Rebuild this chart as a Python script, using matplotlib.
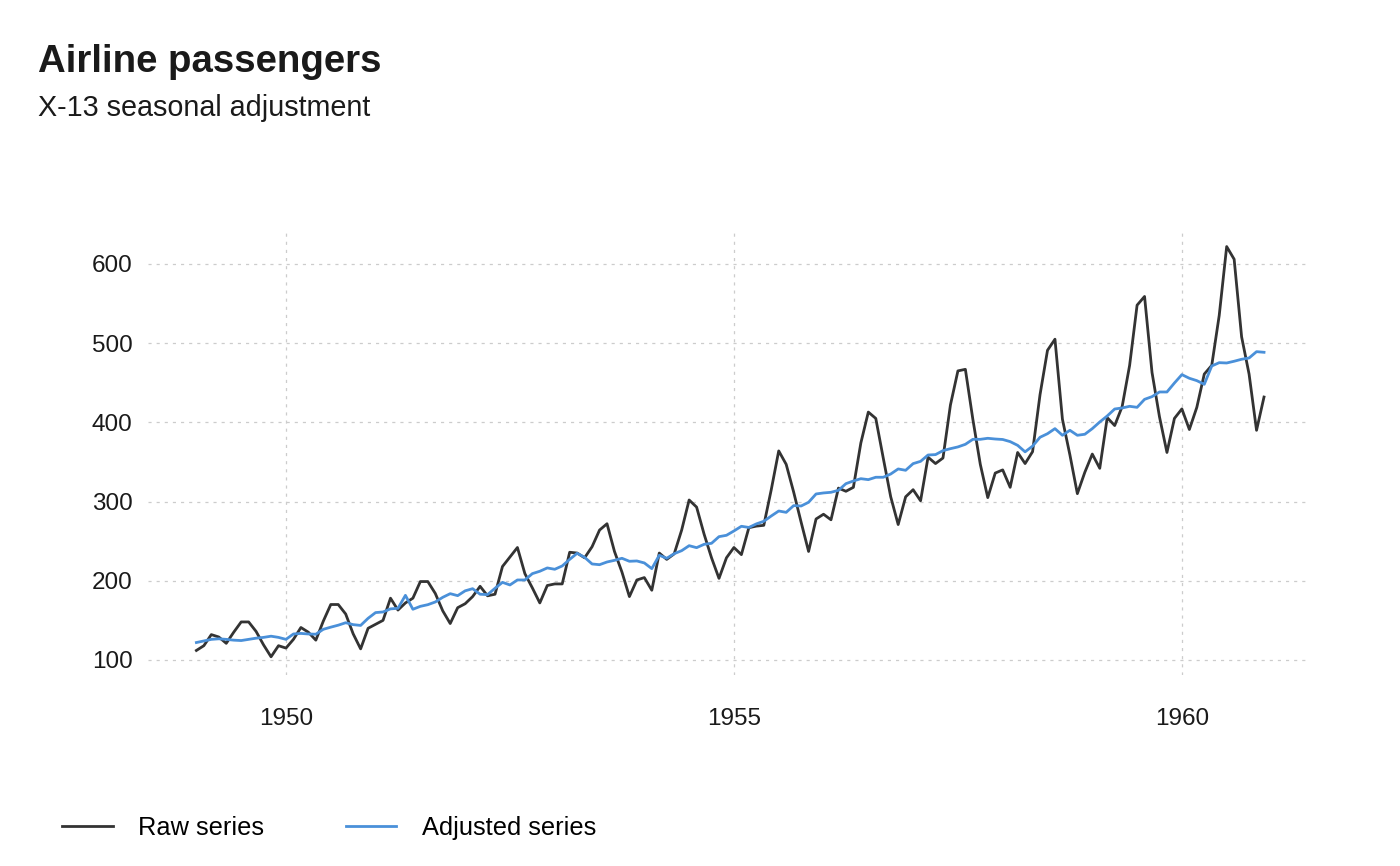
import matplotlib.pyplot as plt
import numpy as np

plt.rcParams['font.family'] = ['Liberation Sans', 'DejaVu Sans']

# monthly AirPassengers, 1949-1960
raw = [112, 118, 132, 129, 121, 135, 148, 148, 136, 119, 104, 118,
       115, 126, 141, 135, 125, 149, 170, 170, 158, 133, 114, 140,
       145, 150, 178, 163, 172, 178, 199, 199, 184, 162, 146, 166,
       171, 180, 193, 181, 183, 218, 230, 242, 209, 191, 172, 194,
       196, 196, 236, 235, 229, 243, 264, 272, 237, 211, 180, 201,
       204, 188, 235, 227, 234, 264, 302, 293, 259, 229, 203, 229,
       242, 233, 267, 269, 270, 315, 364, 347, 312, 274, 237, 278,
       284, 277, 317, 313, 318, 374, 413, 405, 355, 306, 271, 306,
       315, 301, 356, 348, 355, 422, 465, 467, 404, 347, 305, 336,
       340, 318, 362, 348, 363, 435, 491, 505, 404, 359, 310, 337,
       360, 342, 406, 396, 420, 472, 548, 559, 463, 407, 362, 405,
       417, 391, 419, 461, 472, 535, 622, 606, 508, 461, 390, 432]

# X-13 adjusted
adjusted = [122, 124, 126, 126.7, 126, 125, 124.5, 126, 127.5, 128.5, 130, 128.5,
            126, 132.8, 133.5, 132.8, 132.5, 138.7, 141.4, 143.9, 147, 144.6, 143.6, 152.6,
            159.8, 160.6, 164.5, 165.2, 181.6, 164, 167.7, 169.8, 173.2, 179.1, 183.7, 181.2,
            187.3, 190, 183, 182.5, 190.5, 198, 194.7, 201, 201, 209, 212, 216.2,
            214.5, 218.7, 227, 234.7, 229.6, 221.2, 220.3, 223.7, 225.8, 228.4, 224.6, 225,
            222.5, 215.3, 232.2, 228.4, 234.2, 238, 244.3, 241.8, 246, 247.3, 255.7, 257.4,
            262.9, 268.8, 267.3, 271.8, 275.1, 281.8, 288.1, 286.4, 294.9, 294.4, 299.1, 309.6,
            310.9, 311.7, 314.2, 322.6, 326, 328.9, 327.7, 330.7, 330.7, 334.8, 341.2, 339.5,
            347.9, 350.8, 358.8, 359.3, 364.3, 366.8, 369, 372.3, 378.6, 378.6, 379.9, 379,
            378.4, 375.7, 371, 362.8, 370, 381.2, 385.7, 392.1, 383.7, 390, 383.7, 385,
            392.1, 400.5, 408.1, 416.9, 418.2, 420.3, 419, 429.1, 432.5, 438.4, 438.4, 449.7,
            460.3, 455.7, 452.7, 448.1, 471.2, 475.4, 475, 477.2, 479.7, 481.3, 489.3, 488.5]

t = 1949 + np.arange(len(raw)) / 12.0

fig = plt.figure(figsize=(14, 8.66), dpi=100)
ax = fig.add_axes([148 / 1400, 1 - 675 / 866, (1310 - 148) / 1400, (675 - 232) / 866])

grid_kw = dict(color='#cccccc', lw=0.9, linestyle=(0, (2.5, 4)), zorder=0)
for yv in [100, 200, 300, 400, 500, 600]:
    ax.axhline(yv, **grid_kw)
for xv in [1950, 1955, 1960]:
    ax.axvline(xv, **grid_kw)

raw_line, = ax.plot(t, raw, color='#333333', lw=2.0, label='Raw series', zorder=2)
adj_line, = ax.plot(t, adjusted, color='#4a90d9', lw=2.0, label='Adjusted series', zorder=3)

ax.set_xlim(1948.46, 1961.43)
ax.set_ylim(81, 640.4)
ax.set_xticks([1950, 1955, 1960])
ax.set_yticks([100, 200, 300, 400, 500, 600])
ax.tick_params(length=0, labelsize=17.5, colors='#1a1a1a', pad=11)
ax.tick_params(axis='x', pad=24)
for s in ax.spines.values():
    s.set_visible(False)

fig.text(38 / 1400, 1 - 72 / 866, 'Airline passengers', fontsize=27.6,
         fontweight='bold', color='#1a1a1a', ha='left', va='baseline')
fig.text(38 / 1400, 1 - 116 / 866, 'X-13 seasonal adjustment', fontsize=20.7,
         color='#1a1a1a', ha='left', va='baseline')

fig.legend(handles=[raw_line, adj_line], loc='center left',
           bbox_to_anchor=(62 / 1400, 1 - 828 / 866), ncol=2, frameon=False,
           fontsize=18.3, handlelength=2.0, handletextpad=1.0, columnspacing=3.2,
           borderpad=0, borderaxespad=0)

fig.savefig('out.png', dpi=100)
